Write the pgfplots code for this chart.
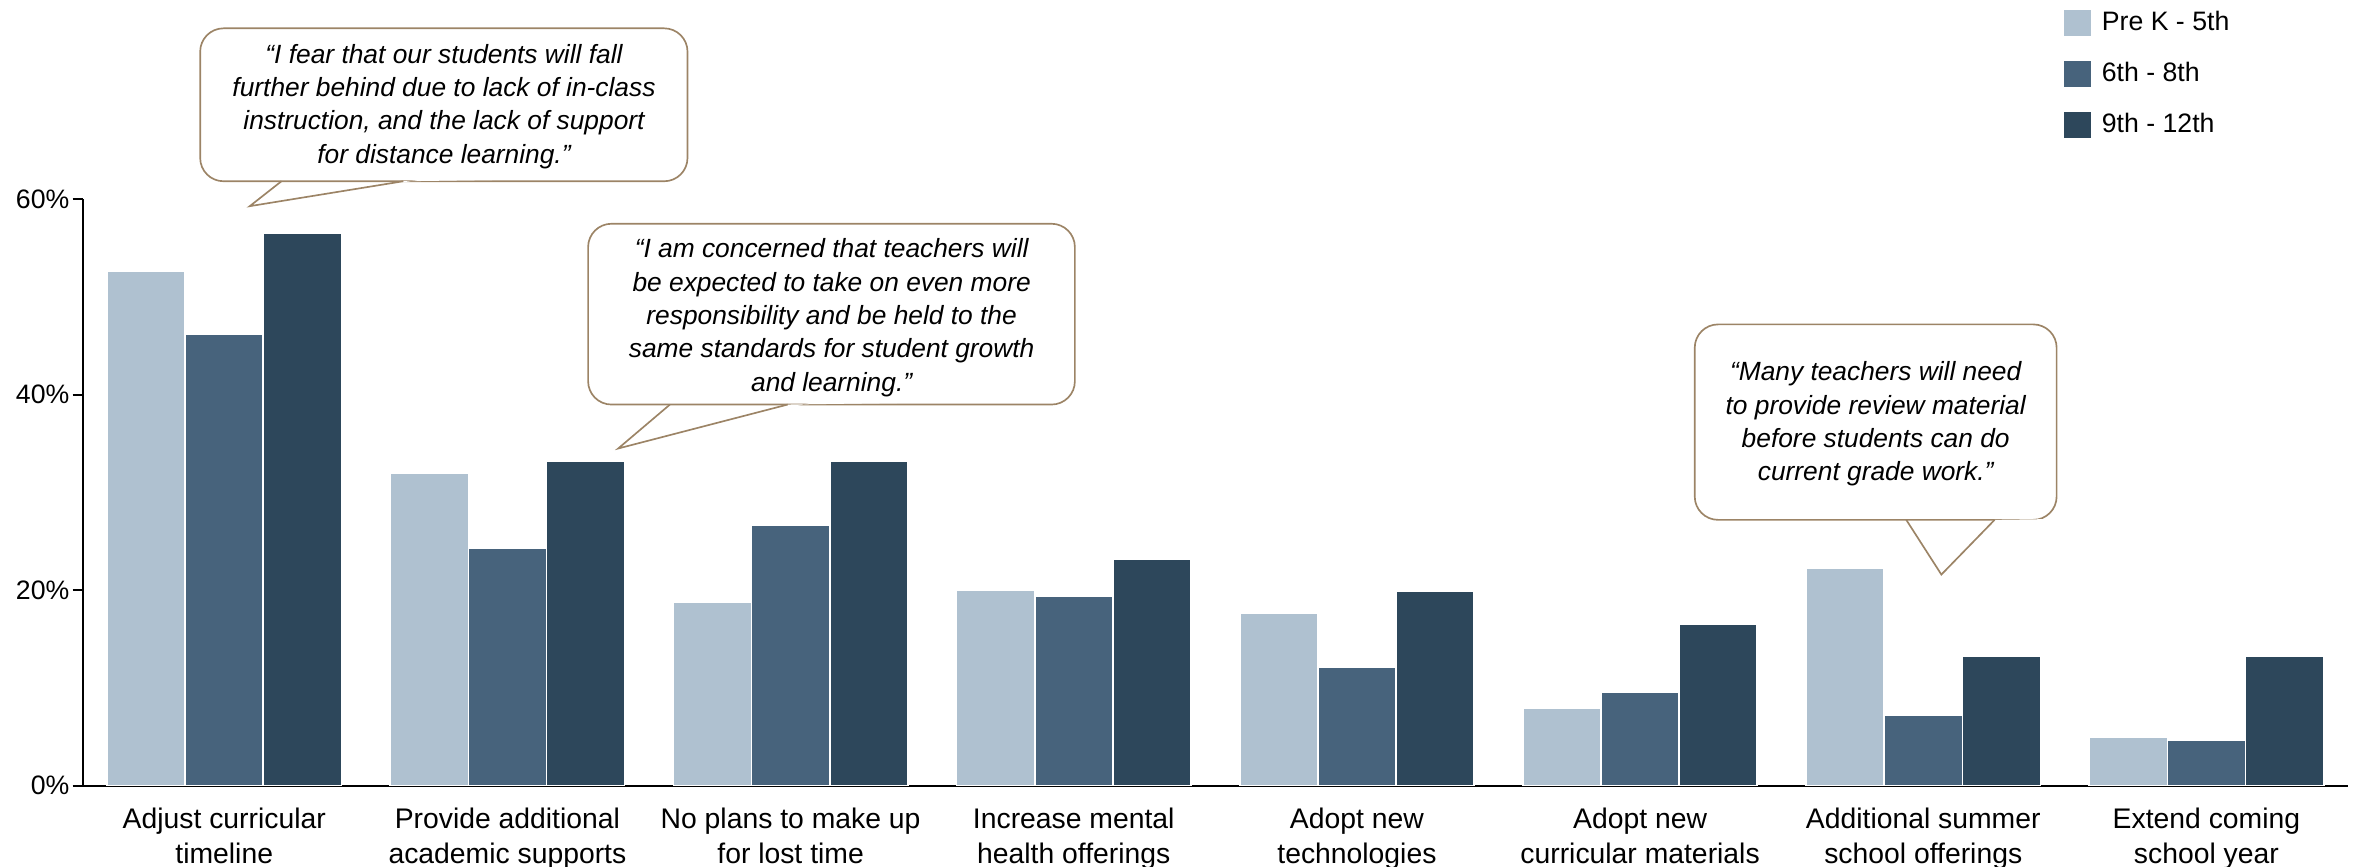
\documentclass[border=0pt]{standalone}
\usepackage{fontspec}
\setmainfont{Liberation Sans}
\usepackage{pgfplots}
\pgfplotsset{compat=1.18}

\definecolor{gradeA}{HTML}{AFC1D0}
\definecolor{gradeB}{HTML}{47637C}
\definecolor{gradeC}{HTML}{2D475B}
\definecolor{bubble}{HTML}{9C8466}

% share of respondents (%) per grade band
\pgfplotstableread{
x  prek  mid   high
0  52.7  46.2  56.5
1  32.0  24.3  33.2
2  18.8  26.7  33.2
3  20.0  19.4  23.2
4  17.7  12.1  19.9
5   7.9   9.6  16.5
6  22.3   7.2  13.2
7   5.0   4.7  13.2
}\grades

% speech bubble: corners of the box, tail base points and tail tip
\newcommand{\quotebubble}[8]{%
  \draw[bubble, line width=0.5pt, fill=white, rounded corners=7pt]
    (axis cs:#1,#2) rectangle (axis cs:#3,#4);
  \fill[white] (axis cs:#5,#4) ++(0,0.6pt) -- (axis cs:#7,#8) -- (axis cs:#6,#4) -- ++(0,0.6pt) -- cycle;
  \draw[bubble, line width=0.5pt] (axis cs:#5,#4) -- (axis cs:#7,#8) -- (axis cs:#6,#4);
}

\begin{document}
\begin{tikzpicture}
\begin{axis}[
  name=ax,
  scale only axis,
  width=679.6pt, height=175.9pt,
  clip=false,
  ybar=0pt, bar width=0.276,
  xmin=-0.5, xmax=7.5, ymin=0, ymax=60,
  axis x line=bottom, axis y line=left,
  axis line style={-, line width=0.55pt, black},
  xtick=data,
  xticklabels={
    Adjust curricular\\timeline,
    Provide additional\\academic supports,
    No plans to make up\\for lost time,
    Increase mental\\health offerings,
    Adopt new\\technologies,
    Adopt new\\curricular materials,
    Additional summer\\school offerings,
    Extend coming\\school year},
  x tick style={draw=none},
  xticklabel style={align=center, font=\fontsize{8.5}{10.4}\selectfont, yshift=-0.2pt},
  ytick={0,20,40,60},
  yticklabel={\pgfmathprintnumber{\tick}\%},
  yticklabel style={font=\fontsize{8}{9.6}\selectfont, inner sep=1.4pt, xshift=0.6pt},
  /pgf/number format/assume math mode=true,
  y tick style={line width=0.55pt, black},
  major tick length=3pt,
  tick align=outside,
  legend style={at={(0.874,1.326)}, anchor=north west, draw=none, fill=none,
    inner sep=0pt, outer sep=0pt, font=\fontsize{8}{9.6}\selectfont,
    row sep=6.4pt,
    nodes={inner sep=0pt, text height=6pt, text depth=1.6pt},
    /tikz/every odd column/.append style={column sep=2.9pt}},
  legend cell align=left,
  legend image code/.code={\fill[#1] (0pt,-4.2pt) rectangle (8.4pt,4.2pt);},
]
\addplot[fill=gradeA, draw=white, line width=0.5pt] table[x=x, y=prek] {\grades};
\addplot[fill=gradeB, draw=white, line width=0.5pt] table[x=x, y=mid] {\grades};
\addplot[fill=gradeC, draw=white, line width=0.5pt] table[x=x, y=high] {\grades};
\legend{Pre K - 5th, 6th - 8th, 9th - 12th}

\quotebubble{-0.085}{77.5}{1.636}{61.85}{0.202}{0.632}{0.090}{59.3}
\node[align=center, font=\fontsize{7.9}{10}\selectfont\itshape]
  at (axis cs:0.776,69.5) {“I fear that our students will fall\\further behind due to lack of in-class\\instruction, and the lack of support\\for distance learning.”};

\quotebubble{1.285}{57.5}{3.004}{39.0}{1.574}{1.990}{1.391}{34.5}
\node[align=center, font=\fontsize{7.9}{10}\selectfont\itshape]
  at (axis cs:2.145,47.9) {“I am concerned that teachers will\\be expected to take on even more\\responsibility and be held to the\\same standards for student growth\\and learning.”};

\quotebubble{5.193}{47.2}{6.471}{27.2}{5.940}{6.252}{6.064}{21.6}
\node[align=center, font=\fontsize{7.9}{10}\selectfont\itshape]
  at (axis cs:5.832,37.0) {“Many teachers will need\\to provide review material\\before students can do\\current grade work.”};
\end{axis}
\pgfresetboundingbox
\path ([shift={(-24.8pt,-24.4pt)}]ax.south west) rectangle ([shift={(2.7pt,59.8pt)}]ax.north east);
\end{tikzpicture}
\end{document}
